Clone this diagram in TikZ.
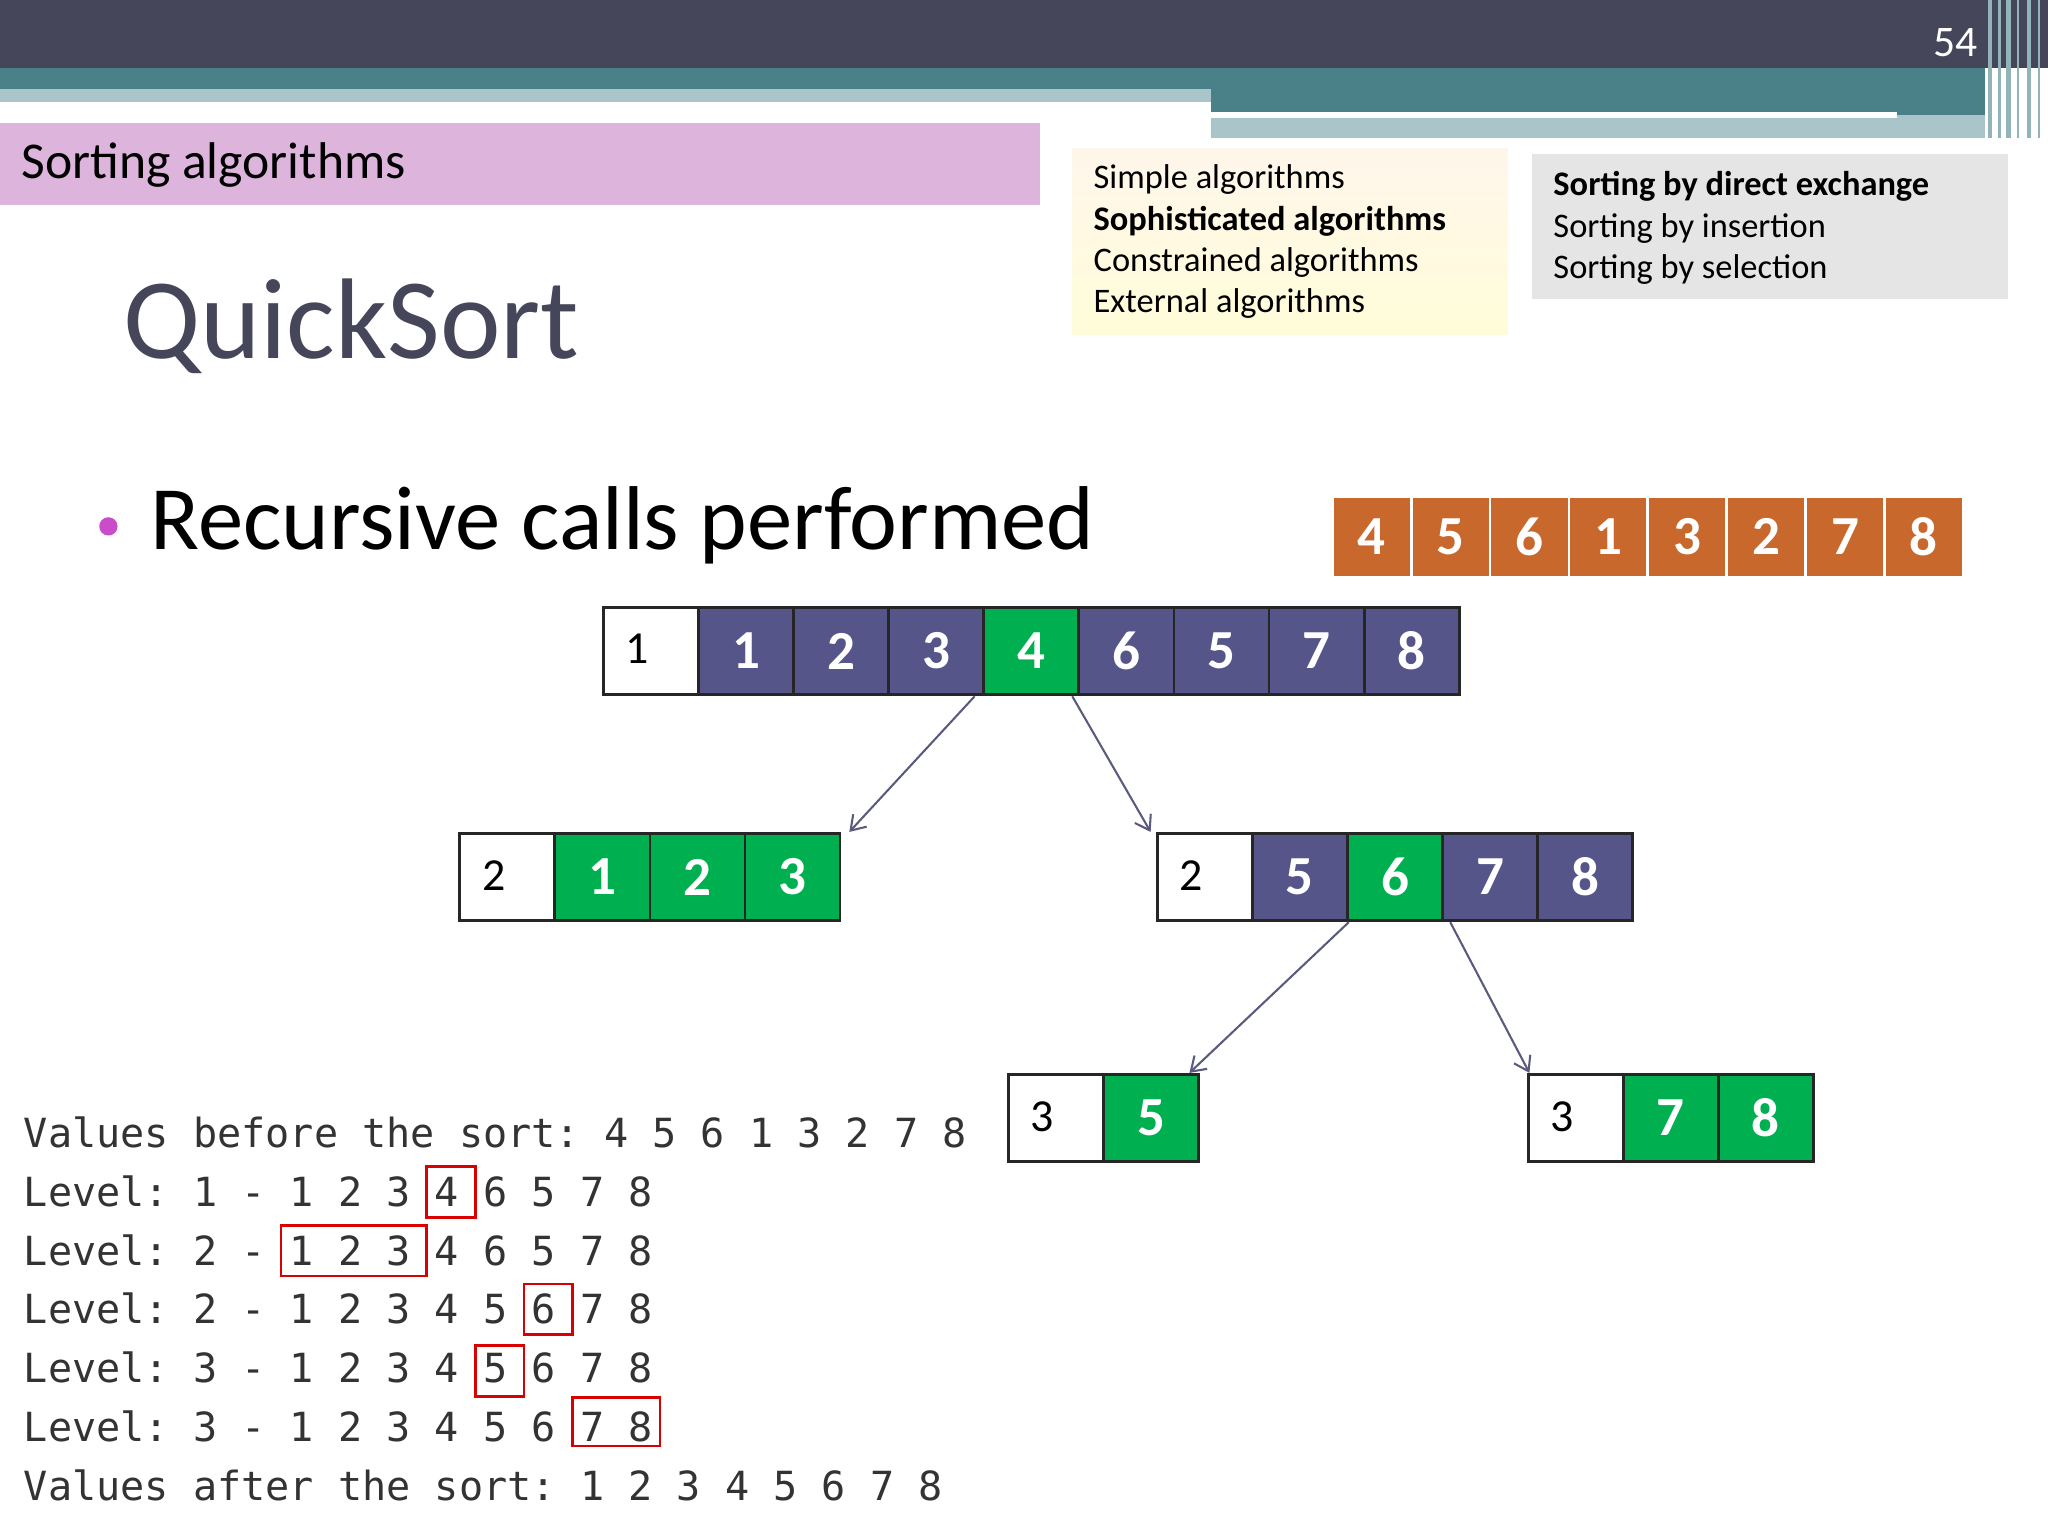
\documentclass[tikz,border=0pt]{standalone}
\usepackage{fontspec}
\setmainfont{Carlito}
\setmonofont{DejaVu Sans Mono}
\usetikzlibrary{arrows.meta}
\definecolor{dark}{HTML}{46465A}
\definecolor{teal}{HTML}{4A8088}
\definecolor{lteal}{HTML}{A9C5C9}
\definecolor{lila}{HTML}{DCB4DC}
\definecolor{purp}{HTML}{55558A}
\definecolor{grn}{HTML}{00B050}
\definecolor{orng}{HTML}{C8682C}
\definecolor{arr}{HTML}{5A5A80}
\begin{document}
\begin{tikzpicture}[x=0.02cm,y=-0.02cm,
 cell/.style={draw=black!85,line width=1.2pt,minimum width=72.8*0.02cm,minimum height=67*0.02cm,inner sep=0pt,text=white,font=\fontsize{24}{24}\selectfont\bfseries},
 wcell/.style={cell,fill=white},
 wlab/.style={font=\fontsize{20}{20}\selectfont,inner sep=0pt},
 pc/.style={cell,fill=purp}, gc/.style={cell,fill=grn},
 oc/.style={draw=white,line width=1.2pt,fill=orng,minimum width=60.4*0.02cm,minimum height=62*0.02cm,inner sep=0pt,text=white,font=\fontsize{24}{24}\selectfont\bfseries},
 link/.style={draw=arr,line width=0.9pt,-{Straight Barb[length=6pt,width=8pt]}},
 con/.style={font=\ttfamily\fontsize{17.5}{17.5}\selectfont,anchor=west,inner sep=0pt,text=black!80},
 rb/.style={draw=red!85!black,line width=1.2pt}]
\useasboundingbox (0,0) rectangle (1568,1176);
\fill[white] (0,0) rectangle (1568,1176);
% header
\fill[dark] (0,0) rectangle (1568,52);
\fill[teal] (0,52) rectangle (1520,68);
\fill[lteal] (0,68) rectangle (927,78);
\fill[teal] (927,68) rectangle (1520,88);
\fill[lteal] (927,88) rectangle (1520,106);
\fill[white] (927,86) rectangle (1452,90);
\foreach \x/\w in {1522/3,1530/2,1536/4,1544/2,1552/3,1560/2}{\fill[teal!60] (\x,0) rectangle (\x+\w,106);}
\node[text=white,font=\fontsize{19}{19}\selectfont] (pg) at (1497,33) {54};
% section bar
\fill[lila] (0,94) rectangle (796,157);
\node[anchor=west,font=\fontsize{22.5}{22.5}\selectfont,inner sep=0pt] (sec) at (16,126) {Sorting algorithms};
\node[anchor=west,text=dark,font=\fontsize{50}{50}\selectfont,inner sep=0pt] (ttl) at (94,250) {QuickSort};
% side boxes
\shade[top color=yellow!10!orange!8,bottom color=orange!12!yellow!15] (821,114) rectangle (1154,256);
\node[anchor=north west,align=left,font=\fontsize{15}{18}\selectfont,inner sep=0pt] (b1) at (837,126) {Simple algorithms\\[0pt]\textbf{Sophisticated algorithms}\\[0pt]Constrained algorithms\\[0pt]External algorithms};
\fill[black!10] (1173,118) rectangle (1537,229);
\node[anchor=north west,align=left,font=\fontsize{15}{18}\selectfont,inner sep=0pt] (b2) at (1189,131) {\textbf{Sorting by direct exchange}\\[0pt]Sorting by insertion\\[0pt]Sorting by selection};
% bullet
\fill[violet!60!magenta!70] (83,403) circle (7);
\node[anchor=west,font=\fontsize{39.5}{39.5}\selectfont,inner sep=0pt] (rc) at (115,402) {Recursive calls performed};
% orange array
\foreach \v [count=\i from 0] in {4,5,6,1,3,2,7,8}{\node[oc] (o\i) at (1050.2+\i*60.4,411) {\v};}
% row 1
\node[wcell] (r0) at (498.4,498.5) {};
\node[wlab] (t0) at (488,497) {1};
\foreach \v/\s [count=\i] in {1/pc,2/pc,3/pc,4/gc,6/pc,5/pc,7/pc,8/pc}{\node[\s] (r\i) at (498.4+\i*72.8,498.5) {\v};}
% row 2 left
\node[wcell] (a0) at (388.4,671.5) {};
\node[wlab] (t1) at (378,670) {2};
\foreach \v/\s [count=\i] in {1/gc,2/gc,3/gc}{\node[\s] (a\i) at (388.4+\i*72.8,671.5) {\v};}
% row 2 right
\node[wcell] (b0) at (922.4,671.5) {};
\node[wlab] (t2) at (912,670) {2};
\foreach \v/\s [count=\i] in {5/pc,6/gc,7/pc,8/pc}{\node[\s] (b\i) at (922.4+\i*72.8,671.5) {\v};}
% row 3
\node[wcell] (c0) at (808.4,856) {};
\node[wlab] (t3) at (798,855) {3};
\node[gc] (c1) at (881.2,856) {5};
\node[wcell] (d0) at (1206.4,856) {};
\node[wlab] (t4) at (1196,855) {3};
\node[gc] (d1) at (1279.2,856) {7};
\node[gc] (d2) at (1352,856) {8};
% arrows
\draw[link] ([xshift=-8*0.02cm]r3.south east) -- ([xshift=6*0.02cm]a3.north east);
\draw[link] ([xshift=-4*0.02cm]r5.south west) -- ([xshift=-4*0.02cm]b0.north west);
\draw[link] (b1.south east) -- ([xshift=-8*0.02cm]c1.north east);
\draw[link] ([xshift=7*0.02cm]b3.south west) -- ([xshift=2*0.02cm]d0.north west);
% console
\foreach \t [count=\i from 0] in {Values before the sort: 4 5 6 1 3 2 7 8,Level: 1 - 1 2 3 4 6 5 7 8,Level: 2 - 1 2 3 4 6 5 7 8,Level: 2 - 1 2 3 4 5 6 7 8,Level: 3 - 1 2 3 4 5 6 7 8,Level: 3 - 1 2 3 4 5 6 7 8,Values after the sort: 1 2 3 4 5 6 7 8}{\node[con] (l\i) at (18,867+\i*45) {\t};}
\def\cw{18.6}
\draw[rb] (18+16.6*\cw,893) rectangle (18+18.6*\cw,932);
\draw[rb] (18+10.6*\cw,938) rectangle (18+16.6*\cw,977);
\draw[rb] (18+20.6*\cw,983) rectangle (18+22.6*\cw,1022);
\draw[rb] (18+18.6*\cw,1030) rectangle (18+20.6*\cw,1069);
\draw[rb] (18+22.6*\cw,1070) rectangle (18+26.2*\cw,1107);
\end{tikzpicture}
\end{document}
